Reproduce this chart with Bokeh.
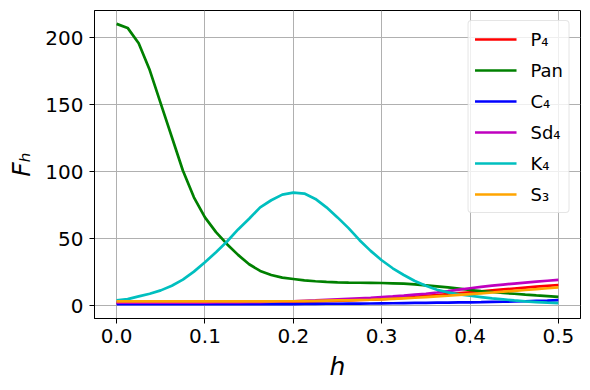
import numpy as np
from bokeh.plotting import figure
from bokeh.models import Range1d, FixedTicker, Legend, LegendItem
from bokeh.embed import file_html
from bokeh.resources import INLINE

# h grid (step 0.0125)
h = [round(i * 0.0125, 4) for i in range(41)]

P4 = [2.5, 2.5, 2.5, 2.5, 2.5, 2.5, 2.5, 2.5, 2.6, 2.6, 2.6, 2.6, 2.7,
      2.7, 2.8, 2.9, 3.0, 3.1, 3.3, 3.5, 3.7, 4.0, 4.3, 4.6, 5.0, 5.5, 6.1,
      6.7, 7.4, 8.0, 8.7, 9.4, 10.1, 10.8, 11.5, 12.2, 12.9, 13.6, 14.3, 14.9, 15.5]
Pan = [210.5, 207.5, 196, 176, 151, 126, 101, 81, 66, 55, 46, 38, 31, 26, 23, 21,
       20, 19, 18.3, 17.8, 17.5, 17.3, 17.2, 17.1, 17.0, 16.8, 16.5, 16.0, 15.3,
       14.5, 13.7, 12.8, 11.8, 11.0, 10.3, 9.6, 9.0, 8.3, 7.7, 7.2, 6.7]
C4 = [1.2] * 13 + [1.2, 1.3, 1.3, 1.3, 1.4, 1.4, 1.5, 1.5, 1.6, 1.6, 1.7, 1.8,
                   1.9, 2.0, 2.1, 2.2, 2.3, 2.4, 2.5, 2.6, 2.7, 2.9, 3.0, 3.2,
                   3.4, 3.7, 3.9, 4.2]
Sd4 = [2.3, 2.3, 2.3, 2.3, 2.3, 2.3, 2.4, 2.4, 2.4, 2.5, 2.5, 2.6, 2.7,
       2.8, 3.0, 3.2, 3.4, 3.7, 4.0, 4.4, 4.8, 5.2, 5.6, 6.0, 6.5, 7.0, 7.6,
       8.3, 9.0, 9.9, 10.9, 12.0, 13.1, 14.1, 15.0, 15.8, 16.6, 17.3, 18.0, 18.7, 19.3]
K4 = [4, 5, 7, 9, 11.5, 15, 19.5, 25.5, 32.5, 40, 48, 57, 65, 73.5, 78.8, 83.0,
      84.5, 83.8, 79.8, 73.5, 66, 58, 49, 41, 34, 28, 23, 18.5, 15, 12, 10, 8.5,
      7.5, 6.5, 5.5, 4.8, 4, 3.3, 2.8, 2.3, 2]
S3 = [3.3] * 13 + [3.3, 3.3, 3.4, 3.4, 3.5, 3.6, 3.8, 4.0, 4.1, 4.3, 4.5, 4.8,
                   5.2, 5.6, 6.0, 6.5, 7.0, 7.5, 8.1, 8.7, 9.3, 9.9, 10.5, 11.2,
                   11.8, 12.4, 13.1, 13.7]

series = [("P₄", P4, "red"), ("Pan", Pan, "green"), ("C₄", C4, "blue"),
          ("Sd₄", Sd4, "#bf00bf"), ("K₄", K4, "#00bfbf"), ("S₃", S3, "orange")]

x_ticks = [0.0, 0.1, 0.2, 0.3, 0.4, 0.5]
y_ticks = [0, 50, 100, 150, 200]

FONT = "DejaVu Sans"

p = figure(width=590, height=390,
           x_range=Range1d(-0.025, 0.525), y_range=Range1d(-9.5, 220.5),
           output_backend="svg", toolbar_location=None,
           min_border_left=94, min_border_right=10, min_border_top=10,
           min_border_bottom=72)
p.background_fill_color = "white"
p.border_fill_color = "white"
p.outline_line_color = "black"
p.outline_line_width = 1
p.outline_line_alpha = 1

p.grid.grid_line_color = "#b0b0b0"
p.grid.grid_line_width = 1
p.xgrid.ticker = FixedTicker(ticks=x_ticks)
p.ygrid.ticker = FixedTicker(ticks=y_ticks)

p.xaxis.ticker = FixedTicker(ticks=x_ticks)
p.xaxis.major_label_overrides = {t: f"{t:.1f}" for t in x_ticks}
p.yaxis.ticker = FixedTicker(ticks=y_ticks)

for ax in (p.xaxis, p.yaxis):
    ax.axis_line_color = "black"
    ax.major_tick_line_color = "black"
    ax.major_tick_out = 5
    ax.major_tick_in = 0
    ax.minor_tick_line_color = None
    ax.major_label_text_font = FONT
    ax.major_label_text_font_size = "20px"
    ax.major_label_text_color = "black"
    ax.axis_label_text_font = FONT
    ax.axis_label_text_font_size = "25px"
    ax.axis_label_text_font_style = "italic"
    ax.axis_label_text_color = "black"

p.xaxis.axis_label = "h"
p.yaxis.axis_label = "Fₕ"
p.xaxis.major_label_standoff = 5
p.yaxis.major_label_standoff = 6
p.xaxis.axis_label_standoff = 6
p.yaxis.axis_label_standoff = 6

items = []
for name, vals, color in series:
    r = p.line(h, vals, line_color=color, line_width=2.7)
    items.append(LegendItem(label=name, renderers=[r]))

legend = Legend(items=items, location="top_right")
legend.margin = 10
legend.padding = 6
legend.spacing = 7
legend.label_height = 24
legend.glyph_height = 20
legend.glyph_width = 42
legend.label_standoff = 14
legend.label_text_font = FONT
legend.label_text_font_size = "18px"
legend.label_text_color = "black"
legend.border_line_color = "#cccccc"
legend.border_line_width = 1
legend.border_radius = 4
legend.background_fill_alpha = 0.8
p.add_layout(legend)

open("out.html", "w").write(file_html(p, INLINE))
